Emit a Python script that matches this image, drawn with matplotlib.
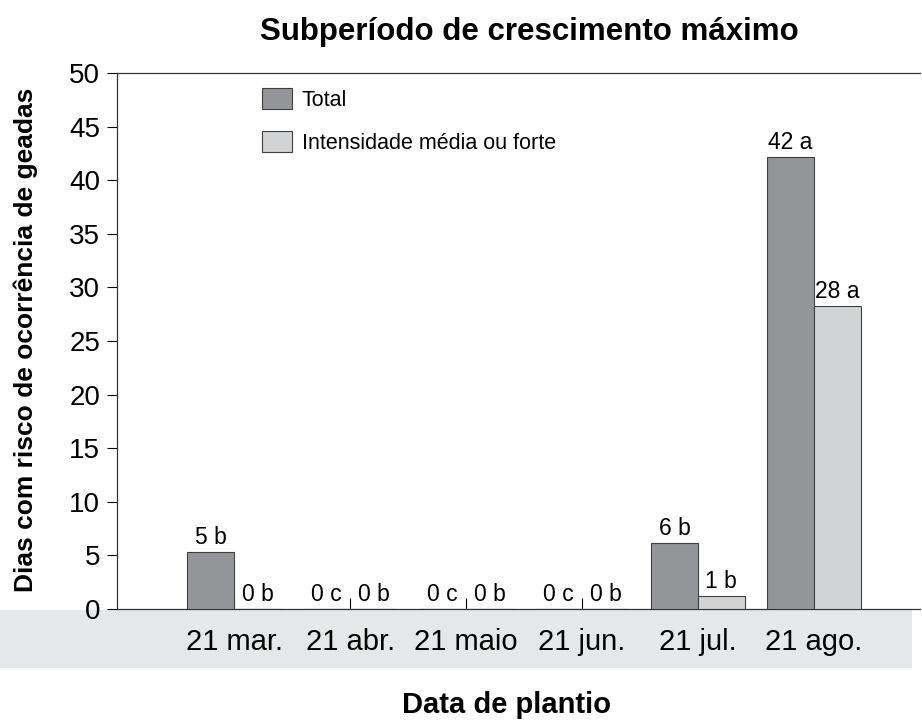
import numpy as np
import matplotlib.pyplot as plt
from matplotlib.patches import Rectangle

plt.rcParams['font.family'] = ['Liberation Sans', 'DejaVu Sans']

datas = ['21 mar.', '21 abr.', '21 maio', '21 jun.', '21 jul.', '21 ago.']
total = [5.3, 0, 0, 0, 6.2, 42.2]
media_forte = [0, 0, 0, 0, 1.2, 28.3]
rot_total = ['5 b', '0 c', '0 c', '0 c', '6 b', '42 a']
rot_media = ['0 b', '0 b', '0 b', '0 b', '1 b', '28 a']

fig = plt.figure(figsize=(9.22, 7.22), dpi=100)
ax = fig.add_axes([117/922, 113/722, 803/922, 536/722])

# faixa cinza atras dos rotulos do eixo x
fig.patches.append(Rectangle((0, 54/722), 912/922, 58/722, transform=fig.transFigure,
                             facecolor='#e6e7e8', edgecolor='none', zorder=-1))
ax.set_facecolor('none')

x = np.arange(len(datas))
w = 0.405
b1 = ax.bar(x - w/2, total, w, color='#939598', edgecolor='#404040', linewidth=0.8,
            label='Total', zorder=3)
b2 = ax.bar(x + w/2, media_forte, w, color='#d1d3d4', edgecolor='#404040', linewidth=0.8,
            label='Intensidade média ou forte', zorder=3)

for i in range(len(datas)):
    ax.annotate(rot_total[i], (x[i] - w/2, total[i]), xytext=(0, 2), textcoords='offset points',
                ha='center', va='bottom', fontsize=16.5)
    ax.annotate(rot_media[i], (x[i] + w/2, media_forte[i]), xytext=(0, 2), textcoords='offset points',
                ha='center', va='bottom', fontsize=16.5)

ax.set_xlim(-1.01, 5.915)
ax.set_ylim(0, 50)
ax.set_yticks(np.arange(0, 51, 5))
ax.set_xticks(x)
ax.set_xticklabels(datas)
ax.tick_params(axis='y', direction='out', length=7, labelsize=20, width=0.8, pad=5)
ax.tick_params(axis='x', direction='in', length=8, labelsize=21, pad=14, width=0.8)

ax.spines['right'].set_visible(False)
for s in ['left', 'top', 'bottom']:
    ax.spines[s].set_linewidth(0.9)
    ax.spines[s].set_color('#333333')

ax.set_ylabel('Dias com risco de ocorrência de geadas', fontsize=19, fontweight='bold')
ax.yaxis.set_label_coords(-0.0984, 0.502)
fig.text(506/922, 1 - 705/722, 'Data de plantio', ha='center', va='center',
         fontsize=21, fontweight='bold')
fig.text(529/922, 1 - 32/722, 'Subperíodo de crescimento máximo', ha='center', va='center',
         fontsize=22.5, fontweight='bold')

ax.legend(loc='upper left', bbox_to_anchor=(0.1806, 0.972), frameon=False, fontsize=15.5,
          handlelength=1.4, handleheight=1.1, handletextpad=0.45, labelspacing=0.95,
          borderpad=0, borderaxespad=0)

fig.savefig('out.png', dpi=100)
